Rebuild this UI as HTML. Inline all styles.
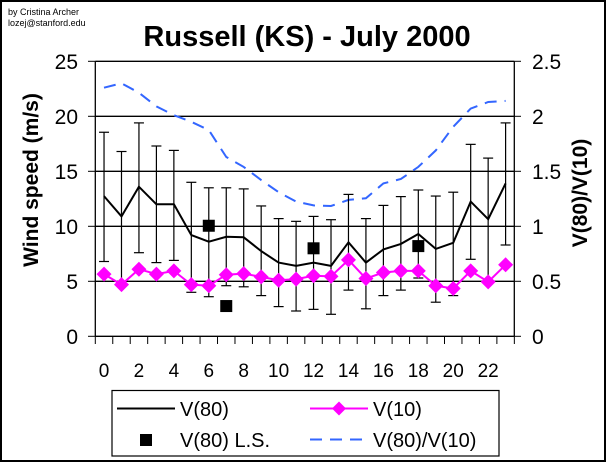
<!DOCTYPE html>
<html><head><style>body{margin:0;background:#fff}svg{display:block}</style></head>
<body>
<svg id="s" width="609" height="464" xmlns="http://www.w3.org/2000/svg" font-family="Liberation Sans, Arial, sans-serif">
<rect x="1" y="1" width="604" height="460" fill="#fff" stroke="#000" stroke-width="2"/>
<text x="8" y="15" font-size="9">by Cristina Archer</text>
<text x="8" y="26" font-size="9">lozej@stanford.edu</text>
<text x="307" y="46" font-size="29" font-weight="bold" text-anchor="middle">Russell (KS) - July 2000</text>
<text transform="translate(38,180) rotate(-90)" font-size="21" font-weight="bold" text-anchor="middle">Wind speed (m/s)</text>
<text transform="translate(587,193) rotate(-90)" font-size="21" font-weight="bold" text-anchor="middle">V(80)/V(10)</text>
<g id="g"></g>
<rect x="112" y="390.5" width="387" height="65.5" fill="none" stroke="#000" stroke-width="1.2"/>
<line x1="117" y1="408.5" x2="175" y2="408.5" stroke="#000" stroke-width="2"/>
<text x="180" y="416" font-size="20">V(80)</text>
<line x1="310" y1="408.5" x2="368" y2="408.5" stroke="#f0f" stroke-width="2"/>
<polygon points="339,401.5 346,408.5 339,415.5 332,408.5" fill="#f0f"/>
<text x="373" y="416" font-size="20">V(10)</text>
<rect x="140" y="434" width="12" height="12" fill="#000"/>
<text x="180" y="447" font-size="20">V(80) L.S.</text>
<line x1="310" y1="439.5" x2="368" y2="439.5" stroke="#3366ff" stroke-width="2" stroke-dasharray="12,8"/>
<text x="373" y="447" font-size="20">V(80)/V(10)</text>
</svg>
<script>
var g=document.getElementById('g'),h='';
function X(i){return 95.3+17.46*(i+0.5)}
function Y(v){return 336.3-11*v}
for(var k=0;k<=5;k++){var y=Y(k*5);
 h+='<line x1="95.3" y1="'+y+'" x2="514.3" y2="'+y+'" stroke="#000" stroke-width="1.3"/>';
 h+='<line x1="88" y1="'+y+'" x2="95.3" y2="'+y+'" stroke="#000"/>';
 h+='<line x1="514.3" y1="'+y+'" x2="521" y2="'+y+'" stroke="#000"/>';
 h+='<text x="78" y="'+(y+7.5)+'" font-size="21" text-anchor="end">'+(k*5)+'</text>';
 h+='<text x="532" y="'+(y+7.5)+'" font-size="21">'+(k*0.5)+'</text>';}
h+='<line x1="95.3" y1="61.3" x2="95.3" y2="336.3" stroke="#000" stroke-width="1.3"/>';
h+='<line x1="514.3" y1="61.3" x2="514.3" y2="336.3" stroke="#000" stroke-width="1.3"/>';
for(var i=0;i<=24;i++){var x=95.3+17.46*i;h+='<line x1="'+x+'" y1="336.3" x2="'+x+'" y2="344" stroke="#000"/>';}
for(var i=0;i<=22;i+=2){h+='<text x="'+X(i)+'" y="377" font-size="19" text-anchor="middle">'+i+'</text>';}
var v80=[12.75,10.9,13.6,12.0,12.0,9.2,8.6,9.05,9.0,7.75,6.7,6.4,6.7,6.4,8.55,6.7,7.9,8.4,9.3,7.95,8.5,12.25,10.65,13.9];
var top_=[18.55,16.8,19.4,17.3,16.9,14.0,13.5,13.5,13.4,11.85,10.7,10.45,10.9,10.6,12.9,10.7,11.9,12.7,13.3,12.75,13.1,17.45,16.2,19.4];
var bot=[6.8,4.8,7.6,6.7,6.9,4.0,3.6,4.6,4.5,3.7,2.7,2.3,2.45,2.0,4.2,2.5,3.7,4.2,5.3,3.1,3.7,7.0,4.8,8.3];
var v10=[5.65,4.7,6.1,5.65,5.95,4.7,4.6,5.6,5.7,5.4,5.1,5.2,5.5,5.45,6.95,5.25,5.8,5.95,5.95,4.6,4.35,5.95,4.95,6.5];
var r=[22.6,23.0,22.15,20.9,20.1,19.5,18.75,16.3,15.4,14.2,13.1,12.25,11.9,11.85,12.4,12.55,13.9,14.3,15.4,16.9,19.05,20.7,21.3,21.4];
var p=function(a){return a.map(function(v,i){return X(i).toFixed(1)+','+Y(v).toFixed(1)}).join(' ')};
h+='<polyline points="'+p(r)+'" fill="none" stroke="#3366ff" stroke-width="2" stroke-dasharray="12,8"/>';
for(var i=0;i<24;i++){var x=X(i);
 h+='<line x1="'+x+'" y1="'+Y(top_[i])+'" x2="'+x+'" y2="'+Y(bot[i])+'" stroke="#000" stroke-width="1.2"/>';
 h+='<line x1="'+(x-5)+'" y1="'+Y(top_[i])+'" x2="'+(x+5)+'" y2="'+Y(top_[i])+'" stroke="#000" stroke-width="1.2"/>';
 h+='<line x1="'+(x-5)+'" y1="'+Y(bot[i])+'" x2="'+(x+5)+'" y2="'+Y(bot[i])+'" stroke="#000" stroke-width="1.2"/>';}
h+='<polyline points="'+p(v80)+'" fill="none" stroke="#000" stroke-width="2"/>';
h+='<polyline points="'+p(v10)+'" fill="none" stroke="#f0f" stroke-width="2"/>';
for(var i=0;i<24;i++){var x=X(i),y=Y(v10[i]);
 h+='<polygon points="'+x+','+(y-7.5)+' '+(x+7.5)+','+y+' '+x+','+(y+7.5)+' '+(x-7.5)+','+y+'" fill="#f0f"/>';}
[[6,10.05],[7,2.75],[12,8.0],[18,8.2]].forEach(function(q){h+='<rect x="'+(X(q[0])-6)+'" y="'+(Y(q[1])-6)+'" width="12" height="12" fill="#000"/>';});
g.innerHTML=h;
</script>
</body></html>
